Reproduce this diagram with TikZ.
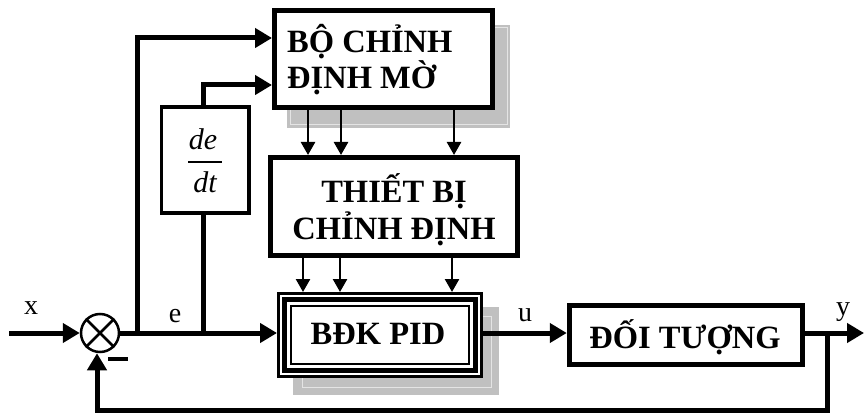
\documentclass[tikz,border=0pt]{standalone}
\usepackage{fontspec}
\setmainfont{Liberation Serif}
\usetikzlibrary{arrows.meta,calc}
\definecolor{shadegray}{RGB}{192,192,192}
\definecolor{shadeline}{RGB}{228,228,228}

\begin{document}
\begin{tikzpicture}[x=1pt,y=-1pt,
  box/.style={draw, line width=5pt, fill=white, inner sep=0pt},
  boxtext/.style={inner sep=0pt, font=\bfseries\fontsize{32.5}{36}\selectfont},
  mainline/.style={line width=5pt},
  mainarrow/.style={line width=5pt, -{Triangle[length=17pt,width=19pt]}},
  subarrow/.style={line width=2.5pt, -{Triangle[length=13pt,width=14pt]}},
  lbl/.style={inner sep=0pt, font=\fontsize{28}{30}\selectfont},
  ital/.style={inner sep=0pt, font=\itshape\fontsize{30}{32}\selectfont},
]
\useasboundingbox (0,0) rectangle (864,414);

% drop shadows behind the fuzzy tuner and the PID block
\fill[shadegray] (287,25) rectangle (510,128);
\draw[shadeline, line width=1pt] (290,28) rectangle (507,125);
\fill[shadegray] (293,307) rectangle (499,395);
\draw[shadeline, line width=1pt] (302,316) rectangle (491,387);

% blocks
\node[box, minimum width=218pt, minimum height=97pt] (FZ) at (383.5,59) {};
\node[boxtext, anchor=west, align=left] (FZt) at (287,60) {BỘ CHỈNH\\ĐỊNH MỜ};
\node[box, minimum width=247pt, minimum height=98pt] (TB) at (394,206.5) {};
\node[boxtext, align=center, font=\bfseries\fontsize{32.5}{37}\selectfont]
  (TBt) at (394,210) {THIẾT BỊ\\CHỈNH ĐỊNH};
\node[box, line width=3pt, minimum width=203pt, minimum height=83pt] (PID) at (380,335) {};
\draw[line width=5pt] ([shift={(7.5,7.5)}]PID.north west) rectangle ([shift={(-7.5,-7.5)}]PID.south east);
\draw[line width=2pt] ([shift={(14,14)}]PID.north west) rectangle ([shift={(-14,-14)}]PID.south east);
\node[boxtext] (PIDt) at (378,334) {BĐK PID};
\node[box, minimum width=233.5pt, minimum height=59pt] (OBJ) at (686,335) {};
\node[boxtext] (OBJt) at (685,337) {ĐỐI TƯỢNG};

% derivative block
\node[draw, line width=3.5pt, minimum width=87.5pt, minimum height=106pt, inner sep=0pt]
  (DD) at (205.25,160) {};
\node[ital, anchor=base] (num) at (203,150) {de};
\node[ital, anchor=base] (den) at (205,193) {dt};
\draw[line width=1.5pt] (188,162) -- (222,162);

% summing junction
\node[circle, draw, line width=2.5pt, minimum size=38pt, inner sep=0pt] (S) at (100,333) {};
\draw[line width=2.5pt] (S.north west) -- (S.south east) (S.north east) -- (S.south west);
\draw[line width=4pt] (108,359) -- (128,359);

% signal points
\coordinate (xin) at (9,333);
\coordinate (b1) at (137,333);
\coordinate (b2) at (203.5,333);
\coordinate (br) at (827,333);
\coordinate (yout) at (864,333);
\coordinate (fbl) at (97,410);

% main loop
\draw[mainarrow] (xin) -- (S.west);
\draw[mainarrow] (S.east) -- (PID.west |- S);
\draw[mainarrow] (PID.east |- S) -- (OBJ.west |- S);
\draw[mainarrow] (OBJ.east |- S) -- (yout);
\draw[mainarrow] (br) |- (fbl) -- ([xshift=-3pt]S.south);

% error and its derivative into the fuzzy tuner
\draw[mainarrow] (b1) |- (FZ.west |- 0,38);
\draw[mainline] (b2) -- (b2 |- DD.south);
\draw[mainarrow] (b2 |- DD.north) |- (FZ.west |- 0,85);

% tuner outputs
\foreach \xa in {308,341,454}
  \draw[subarrow] (FZ.south -| \xa,0) -- (TB.north -| \xa,0);
\foreach \xb in {303,340,452}
  \draw[subarrow] (TB.south -| \xb,0) -- (PID.north -| \xb,0);

% signal labels
\node[lbl] (lx) at (31,308.5) {x};
\node[lbl] (le) at (175,316.5) {e};
\node[lbl] (lu) at (525,315) {u};
\node[lbl] (ly) at (843,312.5) {y};
\end{tikzpicture}
\end{document}
